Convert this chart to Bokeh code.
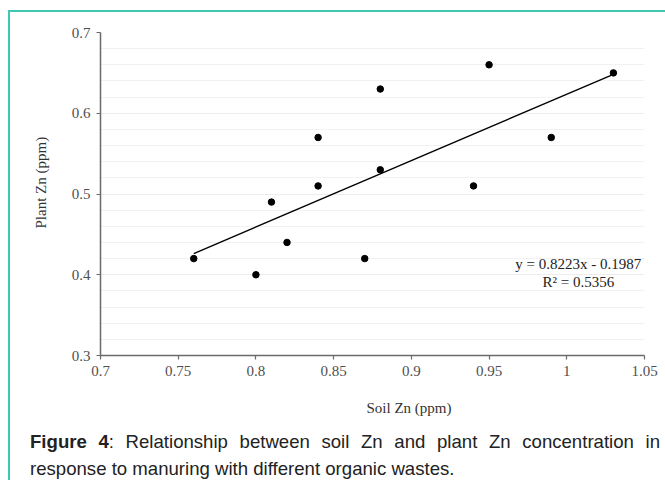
from bokeh.plotting import figure
from bokeh.models import Label, FixedTicker, Div, Title
from bokeh.layouts import column
from bokeh.embed import file_html
from bokeh.resources import INLINE

# ---- data ----
soil_zn = [0.76, 0.80, 0.81, 0.82, 0.84, 0.84, 0.87, 0.88, 0.88, 0.94, 0.95, 0.99, 1.03]
plant_zn = [0.42, 0.40, 0.49, 0.44, 0.57, 0.51, 0.42, 0.63, 0.53, 0.51, 0.66, 0.57, 0.65]
slope = 0.8223
intercept = -0.1987
r_squared = 0.5356
x_ticks = [0.7, 0.75, 0.8, 0.85, 0.9, 0.95, 1.0, 1.05]
x_tick_labels = ["0.7", "0.75", "0.8", "0.85", "0.9", "0.95", "1", "1.05"]
y_ticks = [0.3, 0.4, 0.5, 0.6, 0.7]
y_minor = [0.3 + 0.02 * i for i in range(21)]
x_title = "Soil Zn (ppm)"
y_title = "Plant Zn (ppm)"
caption_bold = "Figure 4"
caption_rest = (": Relationship between soil Zn and plant Zn concentration in "
                "response to manuring with different organic wastes.")

SERIF = "Liberation Serif"
TEAL = "#3ec8b4"

p = figure(width=655, height=430, x_range=(0.7, 1.05), y_range=(0.3, 0.7),
           output_backend="svg", toolbar_location=None,
           min_border_left=90, min_border_right=21, min_border_top=20, min_border_bottom=87)
p.outline_line_color = None
p.background_fill_color = "white"
p.border_fill_color = "white"

p.xaxis.ticker = FixedTicker(ticks=x_ticks)
p.xaxis.major_label_overrides = {t: l for t, l in zip(x_ticks, x_tick_labels)}
p.yaxis.ticker = FixedTicker(ticks=y_ticks, minor_ticks=y_minor)
for ax in (p.xaxis[0], p.yaxis[0]):
    ax.axis_line_color = "#6a6a6a"
    ax.axis_line_width = 1.5
    ax.major_tick_line_color = "#6a6a6a"
    ax.major_tick_line_width = 1.2
    ax.major_tick_out = 4
    ax.major_tick_in = 0
    ax.minor_tick_line_color = None
    ax.major_label_text_font = SERIF
    ax.major_label_text_font_size = "15px"
    ax.major_label_text_color = "#505050"
p.xaxis.major_label_standoff = 6
p.yaxis.major_label_standoff = 6

p.xgrid.grid_line_color = None
p.ygrid.grid_line_color = "#ececec"
p.ygrid.minor_grid_line_color = "#f2f2f2"
p.ygrid.grid_line_width = 1

# trend line
xs = [min(soil_zn), max(soil_zn)]
ys = [slope * x + intercept for x in xs]
p.line(xs, ys, line_color="black", line_width=1.4)

p.scatter(soil_zn, plant_zn, size=6.5, color="black")

# equation text
eq1 = "y = %.4fx - %.4f" % (slope, abs(intercept))
eq2 = "R\u00b2 = %.4f" % r_squared
p.add_layout(Label(x=1.0074, y=0.4128, text=eq1, text_align="center", text_baseline="middle",
                   text_font=SERIF, text_font_size="15px", text_color="#222222"))
p.add_layout(Label(x=1.0074, y=0.3905, text=eq2, text_align="center", text_baseline="middle",
                   text_font=SERIF, text_font_size="15px", text_color="#222222"))

# axis titles
p.add_layout(Title(text=x_title, align="left", offset=266, standoff=39,
                   text_font=SERIF, text_font_size="15px", text_font_style="normal",
                   text_color="#333333"), "below")
p.add_layout(Title(text=y_title, align="left", offset=127, standoff=40,
                   text_font=SERIF, text_font_size="15px", text_font_style="normal",
                   text_color="#333333"), "left")

cap_html = ('<div style="width:630px; margin-left:15px; margin-top:-19px; text-align:justify; '
            'font-family:Arial, \'Liberation Sans\', sans-serif; font-size:18.6px; '
            'line-height:27px; color:#222;"><b>%s</b>%s</div>' % (caption_bold, caption_rest))
cap = Div(text=cap_html, width=655, height=50)

layout = column(p, cap, margin=(10, 0, 0, 8),
                styles={"border-top": "2px solid " + TEAL, "border-left": "2px solid " + TEAL,
                        "background": "white"})

open("out.html", "w").write(file_html(layout, INLINE))
